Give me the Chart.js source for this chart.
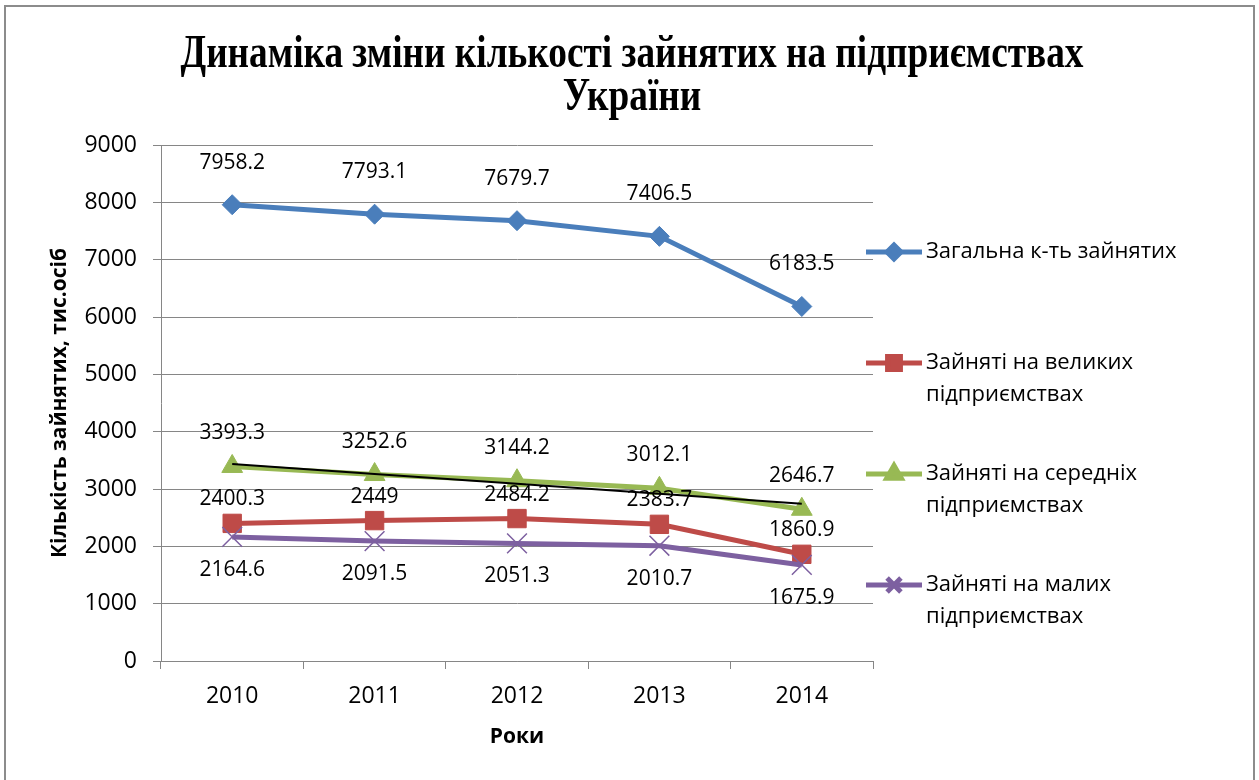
<!DOCTYPE html>
<html>
<head>
<meta charset="utf-8">
<script src="https://cdn.jsdelivr.net/npm/chart.js@4.4.0/dist/chart.umd.min.js"></script>
<style>
html, body { margin: 0; padding: 0; background: #fff; }
#wrap { position: absolute; left: 0; top: 0; width: 1259px; height: 780px; }
#frame { position: absolute; left: 4px; top: 5px; width: 1247px; height: 800px; border: 2px solid #8c8c8c; pointer-events: none; }
</style>
</head>
<body>
<div id="wrap"><canvas id="chart" width="1259" height="780"></canvas></div>
<div id="frame"></div>
<script>
// data
var years = ['2010', '2011', '2012', '2013', '2014'];
var seriesNames = ['Загальна к-ть зайнятих', 'Зайняті на великих підприємствах',
	'Зайняті на середніх підприємствах', 'Зайняті на малих підприємствах'];
var totalEmployed = [7958.2, 7793.1, 7679.7, 7406.5, 6183.5];
var largeEnt = [2400.3, 2449, 2484.2, 2383.7, 1860.9];
var mediumEnt = [3393.3, 3252.6, 3144.2, 3012.1, 2646.7];
var smallEnt = [2164.6, 2091.5, 2051.3, 2010.7, 1675.9];
var mediumTrend = [3436.5, 3263.1, 3089.8, 2916.4, 2743.0];   // linear trend line
var yTicks = [0, 1000, 2000, 3000, 4000, 5000, 6000, 7000, 8000, 9000];
var titleLines = ['Динаміка зміни кількості зайнятих на підприємствах', 'України'];
var yTitle = 'Кількість зайнятих, тис.осіб';
var xTitle = 'Роки';

var GRID = '#868686';
var SANS = '"Open Sans", "Noto Sans", sans-serif';

var titlePlugin = {
	id: 'serifTitle',
	afterDraw: function(chart) {
		var ctx = chart.ctx;
		ctx.save();
		ctx.font = 'bold 46px "Liberation Serif", serif';
		ctx.fillStyle = '#000';
		ctx.textAlign = 'center';
		ctx.textBaseline = 'alphabetic';
		// the original title is set in a condensed face, squeeze it
		var sx = 903 / ctx.measureText(titleLines[0]).width;
		ctx.translate(632, 0);
		ctx.scale(sx, 1);
		ctx.fillText(titleLines[0], 0, 67);
		ctx.fillText(titleLines[1], 0, 110);
		ctx.restore();
	}
};

var valueLabels = {
	id: 'valueLabels',
	afterDatasetsDraw: function(chart) {
		var ctx = chart.ctx;
		ctx.save();
		ctx.font = '21px ' + SANS;
		ctx.fillStyle = '#000';
		ctx.textAlign = 'center';
		ctx.textBaseline = 'middle';
		chart.data.datasets.forEach(function(ds, i) {
			if (ds.labelOffset == null) return;
			chart.getDatasetMeta(i).data.forEach(function(pt, j) {
				ctx.fillText(String(ds.data[j]), pt.x, pt.y + ds.labelOffset);
			});
		});
		ctx.restore();
	}
};

function wrapText(ctx, text, maxW) {
	var words = text.split(' '), lines = [], cur = '';
	words.forEach(function(w) {
		var t = cur ? cur + ' ' + w : w;
		if (cur && ctx.measureText(t).width > maxW) {
			lines.push(cur);
			cur = w;
		} else {
			cur = t;
		}
	});
	if (cur) lines.push(cur);
	return lines;
}

var sideLegend = {
	id: 'sideLegend',
	afterDraw: function(chart) {
		var ctx = chart.ctx;
		var x0 = chart.chartArea.right - 7, x1 = x0 + 56, tx = x1 + 4;
		var y = 252, step = 111, lh = 32;
		ctx.save();
		ctx.font = '22px ' + SANS;
		ctx.textBaseline = 'middle';
		ctx.textAlign = 'left';
		chart.data.datasets.forEach(function(ds) {
			if (!ds.inLegend) return;
			ctx.strokeStyle = ds.borderColor;
			ctx.lineWidth = ds.borderWidth;
			ctx.beginPath();
			ctx.moveTo(x0, y);
			ctx.lineTo(x1, y);
			ctx.stroke();
			ctx.fillStyle = ds.pointBackgroundColor;
			ctx.strokeStyle = ds.pointBorderColor;
			Chart.helpers.drawPoint(ctx, {
				pointStyle: ds.pointStyle,
				radius: ds.pointRadius * 0.7,
				rotation: 0,
				borderWidth: ds.pointBorderWidth
			}, (x0 + x1) / 2, y);
			ctx.fillStyle = '#000';
			var lines = wrapText(ctx, ds.label, 280);
			lines.forEach(function(line, k) {
				ctx.fillText(line, tx, y + k * lh);
			});
			y += step;
		});
		ctx.restore();
	}
};

function series(label, data, color, style, radius, offset, order, bw) {
	return {
		label: label,
		data: data,
		borderColor: color,
		backgroundColor: color,
		borderWidth: 5,
		pointStyle: style,
		pointRadius: radius,
		pointHoverRadius: radius,
		pointBackgroundColor: color,
		pointBorderColor: color,
		pointBorderWidth: bw,
		tension: 0,
		labelOffset: offset,
		inLegend: true,
		order: order
	};
}

new Chart(document.getElementById('chart').getContext('2d'), {
	type: 'line',
	data: {
		labels: years,
		datasets: [
			series(seriesNames[0], totalEmployed, '#4A7EBB', 'rectRot', 10, -42, 5, 1),
			series(seriesNames[1], largeEnt, '#BE4B48', 'rect', 13, -24, 4, 1),
			series(seriesNames[2], mediumEnt, '#98B954', 'triangle', 12, -33, 3, 1),
			series(seriesNames[3], smallEnt, '#7D60A0', 'crossRot', 14, 33, 1, 1.5),
			{
				label: 'trend',
				data: mediumTrend,
				borderColor: '#000',
				borderWidth: 2,
				pointRadius: 0,
				tension: 0,
				order: 0
			}
		]
	},
	options: {
		responsive: false,
		animation: false,
		events: [],
		layout: { padding: { left: 43, top: 145, right: 386, bottom: 26 } },
		plugins: {
			legend: { display: false },
			tooltip: { enabled: false },
			title: { display: false }
		},
		scales: {
			x: {
				offset: true,
				grid: { offset: true, drawOnChartArea: false, drawTicks: true, tickLength: 8, color: GRID },
				border: { color: GRID, width: 1 },
				ticks: { color: '#000', font: { family: SANS, size: 23 }, padding: 14, maxRotation: 0 },
				title: { display: true, text: xTitle, color: '#000', font: { family: SANS, size: 21, weight: 'bold' } },
				afterFit: function(scale) { scale.height = 93; }
			},
			y: {
				min: yTicks[0],
				max: yTicks[yTicks.length - 1],
				ticks: {
					stepSize: yTicks[1] - yTicks[0],
					color: '#000',
					font: { family: SANS, size: 23 },
					padding: 16,
					callback: function(v) { return String(v); }
				},
				grid: { color: GRID, lineWidth: 1, tickLength: 8 },
				border: { color: GRID, width: 1 },
				title: { display: true, text: yTitle, color: '#000', font: { family: SANS, size: 21, weight: 'bold' } },
				afterFit: function(scale) { scale.width = 118; }
			}
		}
	},
	plugins: [titlePlugin, valueLabels, sideLegend]
});
</script>
</body>
</html>
